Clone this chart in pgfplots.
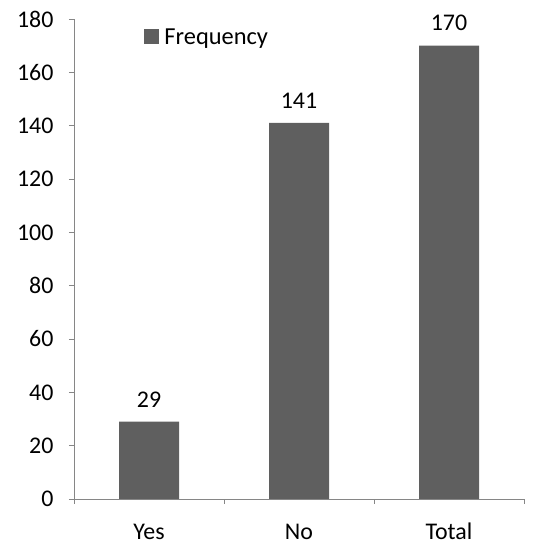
\documentclass[border=0pt]{standalone}
\usepackage{pgfplots}
\pgfplotsset{compat=1.18}
\usepackage{fontspec}
\setmainfont{Carlito}
\definecolor{barfill}{HTML}{5F5F5F}
\definecolor{axisgray}{HTML}{868686}
\begin{document}
\begin{tikzpicture}[x=1bp,y=1bp]
\begin{axis}[
  scale only axis,
  width=450bp, height=480bp,
  xmin=-0.5, xmax=2.5,
  ymin=0, ymax=180,
  ytick={0,20,...,180},
  xtick={0,1,2},
  xticklabels={Yes,No,Total},
  minor xtick={-0.5,0.5,1.5,2.5},
  axis x line*=bottom,
  axis y line*=left,
  axis line style={axisgray, line width=0.8pt, -},
  tick align=outside,
  major tick length=5bp,
  minor tick length=5bp,
  x tick style={draw=none},
  minor x tick style={draw=axisgray, line width=0.8pt},
  y tick style={axisgray, line width=0.8pt},
  tick label style={font=\fontsize{24}{28}\selectfont, black},
  /pgf/number format/assume math mode=true,
  yticklabel style={xshift=-12bp},
  xticklabel style={anchor=base, inner ysep=0pt, yshift=-35bp},
  ybar,
  bar width=60bp,
  nodes near coords,
  nodes near coords style={font=\fontsize{24}{28}\selectfont, black, yshift=11bp},
  legend style={at={(0.155,0.985)}, anchor=north west, draw=none, fill=none,
    font=\fontsize{24.5}{28}\selectfont, inner sep=0pt,
    nodes={inner xsep=5.5bp}},
  legend image code/.code={\fill[barfill] (0bp,-7.5bp) rectangle (15bp,7.5bp);},
]
\addplot[fill=barfill, draw=none] coordinates {(0,29) (1,141) (2,170)};
\addlegendentry{Frequency}
\end{axis}
\path (current axis.south west) ++(-74bp,-47bp) coordinate (bbA);
\path (current axis.north east) ++(18bp,19bp) coordinate (bbB);
\path (bbA) (bbB);
\end{tikzpicture}
\end{document}
